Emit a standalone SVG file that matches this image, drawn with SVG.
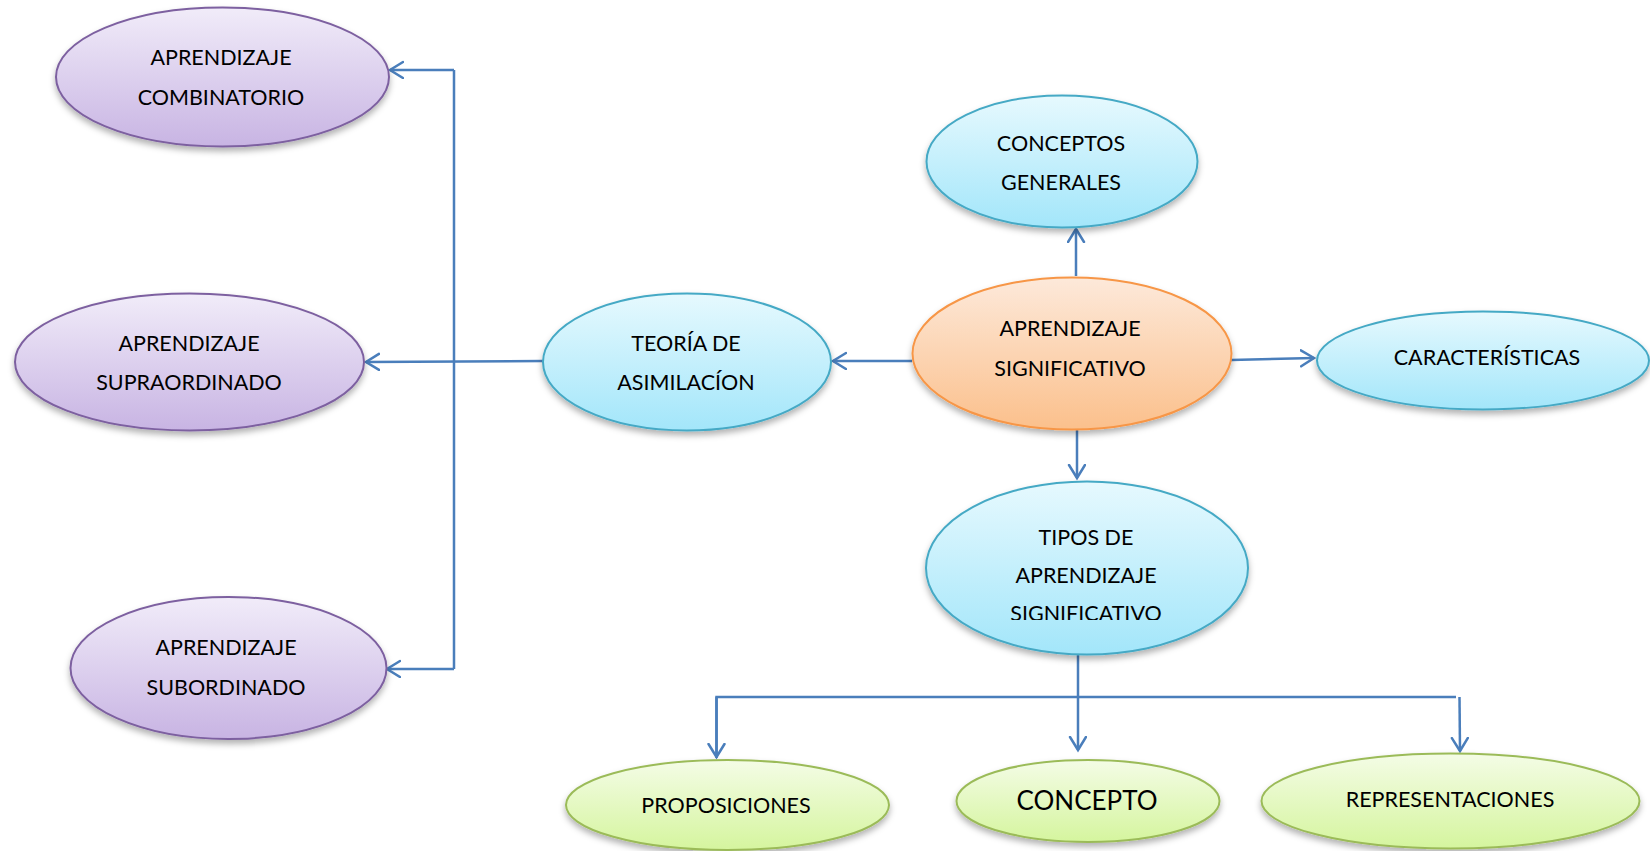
<svg xmlns="http://www.w3.org/2000/svg" width="1650" height="851" viewBox="0 0 1650 851">
<style>
.t{font-family:Lato,"Open Sans","Liberation Sans",sans-serif;font-size:21.5px;fill:#000;text-anchor:middle}
.big{font-size:26px}
.c{fill:none;stroke:#4A7EBB;stroke-width:2.5}
.pur{fill:url(#gPur);stroke:#7D60A0;stroke-width:2}
.blu{fill:url(#gBlu);stroke:#45A9C5;stroke-width:2}
.org{fill:url(#gOrg);stroke:#F79646;stroke-width:2}
.grn{fill:url(#gGrn);stroke:#9BBB59;stroke-width:2}
</style>
<defs>
<linearGradient id="gPur" x1="0" y1="0" x2="0" y2="1"><stop offset="0" stop-color="#F1ECF9"/><stop offset="1" stop-color="#C8B4E3"/></linearGradient>
<linearGradient id="gBlu" x1="0" y1="0" x2="0" y2="1"><stop offset="0" stop-color="#E6F9FE"/><stop offset="1" stop-color="#A3E6FA"/></linearGradient>
<linearGradient id="gOrg" x1="0" y1="0" x2="0" y2="1"><stop offset="0" stop-color="#FDE9DA"/><stop offset="1" stop-color="#FBC08C"/></linearGradient>
<linearGradient id="gGrn" x1="0" y1="0" x2="0" y2="1"><stop offset="0" stop-color="#F4FCE6"/><stop offset="1" stop-color="#D5F59E"/></linearGradient>
<filter id="sh" x="-10%" y="-10%" width="120%" height="130%"><feDropShadow dx="0" dy="4" stdDeviation="3" flood-color="#000" flood-opacity="0.3"/></filter>
<marker id="ar" markerUnits="userSpaceOnUse" markerWidth="30" markerHeight="30" refX="14" refY="9" orient="auto" viewBox="0 0 30 30"><path d="M1,1 L14,9 L1,17" fill="none" stroke="#4A7EBB" stroke-width="2.5" stroke-linecap="round"/></marker>
<clipPath id="clipTipos"><rect x="900" y="480" width="380" height="140"/></clipPath>
</defs>

<g id="connectors">
<path class="c" d="M454,70 L454,669"/>
<path class="c" d="M454,70 L390,70" marker-end="url(#ar)"/>
<path class="c" d="M454,669 L387,669" marker-end="url(#ar)"/>
<path class="c" d="M543,361 L366,362" marker-end="url(#ar)"/>
<path class="c" d="M912,361 L833,361" marker-end="url(#ar)"/>
<path class="c" d="M1076,276 L1076,229" marker-end="url(#ar)"/>
<path class="c" d="M1231,360 L1314,358" marker-end="url(#ar)"/>
<path class="c" d="M1077,430 L1077,478" marker-end="url(#ar)"/>
<path class="c" d="M1078,655 L1078,750" marker-end="url(#ar)"/>
<path class="c" d="M716.5,758 L716.5,697 L1456,697"/>
<path class="c" d="M716.5,697 L716.5,757" marker-end="url(#ar)"/>
<path class="c" d="M1459.5,697 L1460,751" marker-end="url(#ar)"/>
</g>

<g id="n-combinatorio">
<ellipse class="pur" filter="url(#sh)" cx="222.5" cy="77" rx="166.5" ry="69.5"/>
<text class="t" x="221" y="64.5">APRENDIZAJE</text>
<text class="t" x="221" y="104.5">COMBINATORIO</text>
</g>
<g id="n-supraordinado">
<ellipse class="pur" filter="url(#sh)" cx="189.5" cy="362" rx="174.5" ry="68.5"/>
<text class="t" x="189" y="351">APRENDIZAJE</text>
<text class="t" x="189" y="390">SUPRAORDINADO</text>
</g>
<g id="n-subordinado">
<ellipse class="pur" filter="url(#sh)" cx="228.5" cy="668" rx="158" ry="71"/>
<text class="t" x="226" y="655">APRENDIZAJE</text>
<text class="t" x="226" y="695">SUBORDINADO</text>
</g>
<g id="n-teoria">
<ellipse class="blu" filter="url(#sh)" cx="687" cy="362" rx="144" ry="68.5"/>
<text class="t" x="686" y="351">TEORÍA DE</text>
<text class="t" x="686" y="390">ASIMILACÍON</text>
</g>
<g id="n-conceptos-generales">
<ellipse class="blu" filter="url(#sh)" cx="1062" cy="161.5" rx="135.5" ry="66"/>
<text class="t" x="1061" y="151">CONCEPTOS</text>
<text class="t" x="1061" y="190">GENERALES</text>
</g>
<g id="n-aprendizaje-significativo">
<ellipse class="org" filter="url(#sh)" cx="1072" cy="353.5" rx="159.5" ry="76"/>
<text class="t" x="1070" y="336">APRENDIZAJE</text>
<text class="t" x="1070" y="376">SIGNIFICATIVO</text>
</g>
<g id="n-caracteristicas">
<ellipse class="blu" filter="url(#sh)" cx="1483" cy="360.5" rx="166" ry="49"/>
<text class="t" x="1487" y="364.5">CARACTERÍSTICAS</text>
</g>
<g id="n-tipos">
<ellipse class="blu" filter="url(#sh)" cx="1087" cy="568" rx="161" ry="86.5"/>
<text class="t" x="1086" y="544.5">TIPOS DE</text>
<text class="t" x="1086" y="582.5">APRENDIZAJE</text>
<text class="t" x="1086" y="620.5" clip-path="url(#clipTipos)">SIGNIFICATIVO</text>
</g>
<g id="n-proposiciones">
<ellipse class="grn" filter="url(#sh)" cx="727.5" cy="805" rx="161.5" ry="45"/>
<text class="t" x="726" y="813">PROPOSICIONES</text>
</g>
<g id="n-concepto">
<ellipse class="grn" filter="url(#sh)" cx="1088" cy="801" rx="131.5" ry="41"/>
<text class="t big" x="1087" y="810">CONCEPTO</text>
</g>
<g id="n-representaciones">
<ellipse class="grn" filter="url(#sh)" cx="1450.5" cy="801" rx="189" ry="47.5"/>
<text class="t" x="1450" y="806.5">REPRESENTACIONES</text>
</g>
</svg>
